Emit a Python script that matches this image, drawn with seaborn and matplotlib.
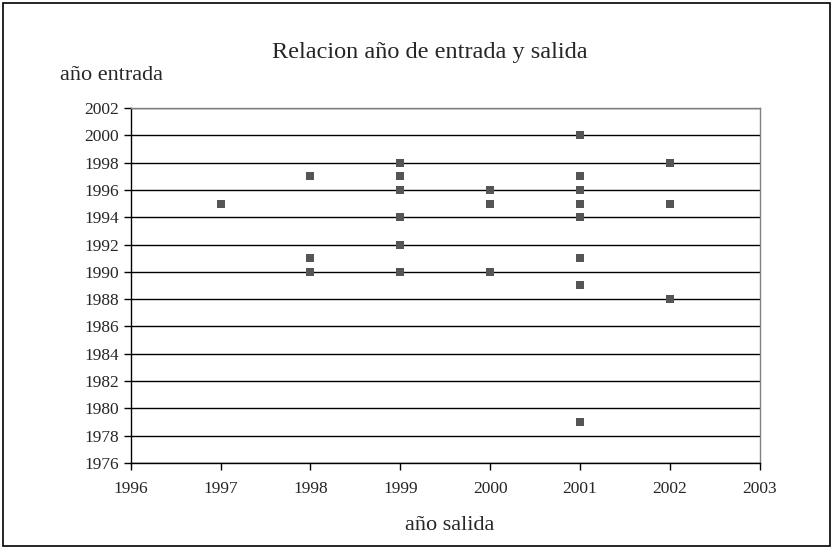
import matplotlib
matplotlib.use("Agg")
import matplotlib.pyplot as plt
from matplotlib.patches import Rectangle
import pandas as pd
import seaborn as sns

# values
anio_salida = [1997,
               1998, 1998, 1998,
               1999, 1999, 1999, 1999, 1999, 1999,
               2000, 2000, 2000,
               2001, 2001, 2001, 2001, 2001, 2001, 2001, 2001,
               2002, 2002, 2002]
anio_entrada = [1995,
                1997, 1991, 1990,
                1998, 1997, 1996, 1994, 1992, 1990,
                1996, 1995, 1990,
                2000, 1997, 1996, 1995, 1994, 1991, 1989, 1979,
                1998, 1995, 1988]
x_ticks = list(range(1996, 2004))
y_ticks = list(range(1976, 2004, 2))

df = pd.DataFrame({"salida": anio_salida, "entrada": anio_entrada})

sns.set_style("white")
plt.rcParams["font.family"] = ["Liberation Serif", "DejaVu Serif"]

fig = plt.figure(figsize=(8.33, 5.49), dpi=100)
ax = fig.add_axes([0.157, 0.157, 0.755, 0.646])

sns.scatterplot(data=df, x="salida", y="entrada", marker="s", s=33,
                color="#555555", edgecolor="none", ax=ax, zorder=3)

ax.set_xlim(1996, 2003)
ax.set_ylim(1976, 2002)
ax.set_xticks(x_ticks)
ax.set_yticks(y_ticks)
ax.yaxis.grid(True, color="black", linewidth=1)
ax.set_axisbelow(True)
ax.tick_params(axis="both", direction="out", length=5, width=1, color="black",
               labelsize=12.5, left=True, bottom=True)
ax.tick_params(axis="x", pad=8)
for side in ["left", "bottom"]:
    ax.spines[side].set_color("black")
    ax.spines[side].set_linewidth(1)
for side in ["top", "right"]:
    ax.spines[side].set_color("#808080")
    ax.spines[side].set_linewidth(1)

ax.set_xlabel("")
ax.set_ylabel("")
fig.text(0.54, 0.042, "año salida", fontsize=16, ha="center", va="center")
fig.text(0.516, 0.904, "Relacion año de entrada y salida", fontsize=17.5,
         ha="center", va="center")
fig.text(0.072, 0.863, "año entrada", fontsize=16, ha="left", va="center")

fig.patches.append(Rectangle((0.004, 0.005), 0.992, 0.99, transform=fig.transFigure,
                             fill=False, edgecolor="black", linewidth=1.2))

fig.savefig("out.png", dpi=100)
